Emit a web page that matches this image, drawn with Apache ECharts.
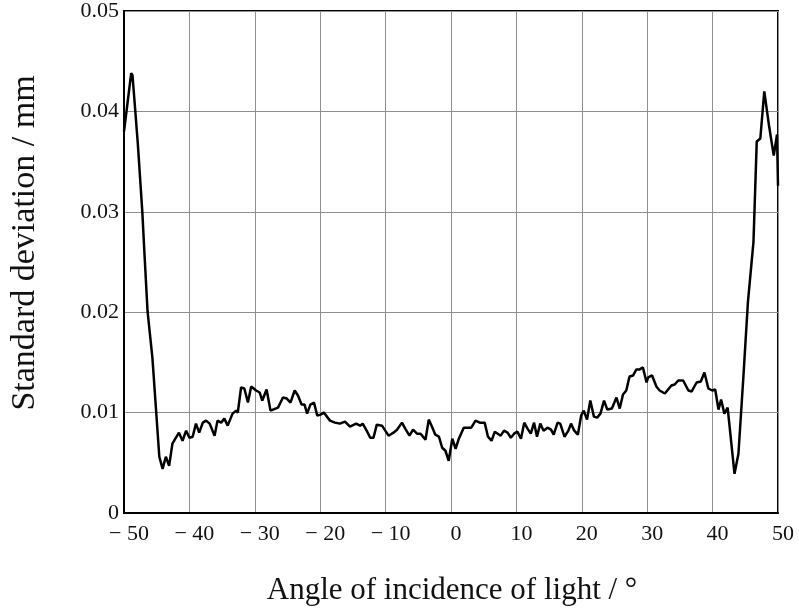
<!DOCTYPE html>
<html>
<head>
<meta charset="utf-8">
<script src="https://cdn.jsdelivr.net/npm/echarts@6/dist/echarts.min.js"></script>
<style>html,body{margin:0;padding:0;background:#fff;}#c{width:799px;height:611px;}</style>
</head>
<body>
<div id="c"></div>
<script>
const angles = [-50,-48.9,-48.7,-47.9,-47.2,-46.9,-46.4,-45.65,-44.6,-44.1,-43.6,-43.1,-42.6,-41.6,-41.05,-40.5,-40.0,-39.5,-39.0,-38.5,-37.95,-37.45,-36.9,-36.15,-35.7,-35.15,-34.65,-34.15,-33.4,-32.85,-32.6,-32.1,-31.6,-31.05,-30.55,-29.8,-29.25,-28.85,-28.2,-27.6,-26.45,-25.7,-25.1,-24.55,-23.9,-23.4,-22.85,-22.4,-22.0,-21.5,-20.95,-20.45,-19.95,-19.45,-18.5,-17.75,-17.0,-16.2,-15.45,-14.5,-13.9,-13.5,-12.9,-12.35,-11.85,-11.35,-10.55,-10.3,-9.55,-8.8,-8.25,-7.5,-7.0,-6.35,-5.8,-5.2,-4.7,-4.4,-3.9,-3.4,-2.9,-2.4,-1.85,-1.35,-0.85,-0.35,0.2,0.7,1.2,1.95,2.55,3.1,3.75,4.4,5.15,5.65,6.2,6.7,7.15,7.6,8.1,8.65,9.15,9.65,10.15,10.7,11.2,11.7,12.2,12.7,13.15,13.65,14.15,14.75,15.3,15.7,16.3,16.7,17.35,17.95,18.35,18.85,19.4,19.9,20.3,20.8,21.3,21.85,22.35,22.85,23.4,23.9,24.6,25.3,25.8,26.3,26.8,27.3,27.85,28.35,28.85,29.35,29.9,30.15,30.75,31.4,31.9,32.7,33.2,33.7,34.2,34.75,35.5,36.3,36.8,37.55,38.2,38.75,39.35,39.95,40.4,40.9,41.3,41.8,42.3,43.35,43.95,44.7,45.4,46.25,46.75,47.3,47.9,48.6,49.35,49.85,50];
const stdDev = [0.0380,0.0438,0.0436,0.0369,0.0300,0.0262,0.0201,0.0154,0.0056,0.0044,0.0056,0.0047,0.0069,0.0080,0.0072,0.0082,0.0075,0.0076,0.0089,0.0080,0.0090,0.0092,0.0089,0.0077,0.0092,0.0090,0.0094,0.0087,0.0099,0.0102,0.0100,0.0125,0.0124,0.0110,0.0126,0.0122,0.0120,0.0112,0.0123,0.0102,0.0105,0.0115,0.0114,0.0110,0.0122,0.0117,0.0108,0.0108,0.0099,0.0108,0.0110,0.0097,0.0098,0.0100,0.0092,0.0090,0.0089,0.0091,0.0086,0.0089,0.0087,0.0089,0.0082,0.0075,0.0075,0.0088,0.0087,0.0086,0.0077,0.0080,0.0083,0.0090,0.0084,0.0077,0.0083,0.0079,0.0079,0.0077,0.0073,0.0093,0.0086,0.0078,0.0076,0.0065,0.0062,0.0052,0.0074,0.0064,0.0074,0.0085,0.0085,0.0085,0.0092,0.0090,0.0090,0.0076,0.0072,0.0081,0.0079,0.0077,0.0082,0.0080,0.0075,0.0079,0.0081,0.0074,0.0090,0.0084,0.0079,0.0090,0.0076,0.0089,0.0082,0.0085,0.0083,0.0078,0.0090,0.0089,0.0076,0.0082,0.0089,0.0082,0.0078,0.0097,0.0102,0.0093,0.0112,0.0096,0.0095,0.0099,0.0112,0.0103,0.0104,0.0115,0.0104,0.0118,0.0122,0.0136,0.0137,0.0143,0.0143,0.0145,0.0130,0.0135,0.0137,0.0126,0.0122,0.0119,0.0123,0.0127,0.0128,0.0132,0.0132,0.0122,0.0121,0.0130,0.0131,0.0140,0.0124,0.0122,0.0123,0.0103,0.0113,0.0099,0.0105,0.0039,0.0059,0.0135,0.0210,0.0270,0.0370,0.0373,0.0420,0.0387,0.0356,0.0377,0.0326];
const xTicks = [-50,-40,-30,-20,-10,0,10,20,30,40,50];
const yTicks = [0,0.01,0.02,0.03,0.04,0.05];
const xTitle = 'Angle of incidence of light / °';
const yTitle = 'Standard deviation / mm';

const FONT = '"Liberation Serif", "DejaVu Serif", serif';
const chart = echarts.init(document.getElementById('c'), null, {renderer: 'canvas'});
const pts = angles.map((a, i) => [a, stdDev[i]]);
chart.setOption({
  animation: false,
  backgroundColor: '#fff',
  grid: {left: 124, right: 21, top: 7, bottom: 98, show: true, borderColor: '#000', borderWidth: 2, backgroundColor: 'transparent'},
  xAxis: {
    type: 'value', min: xTicks[0], max: xTicks[xTicks.length - 1], interval: 10,
    axisLine: {show: true, onZero: false, lineStyle: {color: '#000', width: 2}},
    axisTick: {show: false},
    splitLine: {show: true, lineStyle: {color: '#8f8f8f', width: 1}},
    axisLabel: {
      color: '#111', fontFamily: FONT, fontSize: 22, margin: 10, padding: [0, 0, 0, 10],
      formatter: v => v < 0 ? '\u2212 ' + Math.abs(v) : String(v)
    }
  },
  yAxis: {
    type: 'value', min: yTicks[0], max: yTicks[yTicks.length - 1], interval: 0.01,
    axisLine: {show: true, onZero: false, lineStyle: {color: '#000', width: 2}},
    axisTick: {show: false},
    splitLine: {show: true, lineStyle: {color: '#8f8f8f', width: 1}},
    axisLabel: {
      color: '#111', fontFamily: FONT, fontSize: 22, margin: 5, padding: [8, 0, 0, 0],
      formatter: v => v === 0 ? '0' : v.toFixed(2)
    }
  },
  graphic: [
    {type: 'text', x: 452, y: 591, style: {text: xTitle, font: '31px ' + FONT, fill: '#111', textAlign: 'center', textVerticalAlign: 'middle'}},
    {type: 'text', x: 25, y: 243, rotation: Math.PI / 2, style: {text: yTitle, font: '34px ' + FONT, fill: '#111', textAlign: 'center', textVerticalAlign: 'middle'}}
  ],
  series: [{
    type: 'line', data: pts, showSymbol: false, symbol: 'none',
    lineStyle: {color: '#000', width: 2.5}, clip: true
  }]
});
</script>
</body>
</html>
